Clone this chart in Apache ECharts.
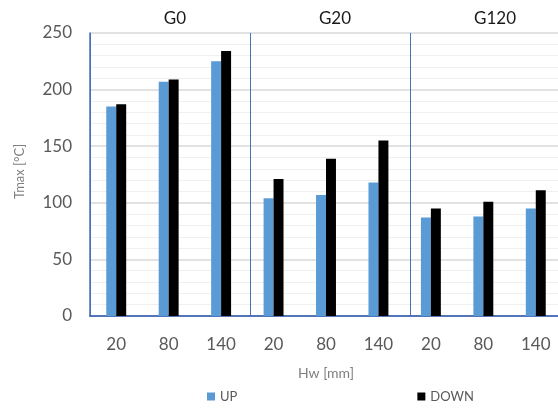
<!DOCTYPE html>
<html>
<head>
<meta charset="utf-8">
<script src="https://cdn.jsdelivr.net/npm/echarts@6/dist/echarts.min.js"></script>
<style>
  html, body { margin: 0; padding: 0; background: #fff; }
  #chart { width: 558px; height: 408px; }
</style>
</head>
<body>
<div id="chart"></div>
<script>
const hwLabels = ["20", "80", "140", "20", "80", "140", "20", "80", "140"];
const groups = ["G0", "G20", "G120"];
const upValues = [185, 207, 225, 104, 107, 118, 87, 88, 95];
const downValues = [187, 209, 234, 121, 139, 155, 95, 101, 111];

const chartDom = document.getElementById("chart");
const myChart = echarts.init(chartDom);
const font = "Lato, 'Liberation Sans', sans-serif";
const frame = "#4a6fb5";

const option = {
  animation: false,
  textStyle: { fontFamily: font },
  grid: [
    { left: 90, top: 33, bottom: 92, width: 472, outerBoundsMode: "none" },
    // group header axis: its split lines are the group dividers
    { left: 90, top: 33, bottom: 92, width: 480, outerBoundsMode: "none" },
  ],
  legend: {
    left: 207,
    top: 390,
    padding: 0,
    itemWidth: 8,
    itemHeight: 8,
    itemGap: 180,
    icon: "rect",
    textStyle: { color: "#595959", fontSize: 13, fontFamily: font },
    data: ["UP", "DOWN"],
  },
  xAxis: [
    {
      type: "category",
      gridIndex: 0,
      data: hwLabels,
      axisLine: { lineStyle: { color: frame, width: 1.5 } },
      axisTick: { show: false },
      axisLabel: { color: "#595959", fontSize: 17, margin: 20 },
      name: "Hw [mm]",
      nameLocation: "middle",
      nameGap: 50,
      nameTextStyle: { color: "#7f7f7f", fontSize: 14 },
    },
    {
      type: "category",
      gridIndex: 1,
      position: "top",
      data: groups,
      axisLine: { show: true, lineStyle: { color: frame, width: 1.5 } },
      axisTick: { show: false },
      axisLabel: { color: "#1a1a1a", fontSize: 17, margin: 6, padding: [0, 0, 0, 10] },
      splitLine: { show: true, lineStyle: { color: frame, width: 1 } },
    },
  ],
  yAxis: [
    {
      type: "value",
      gridIndex: 0,
      min: 0,
      max: 250,
      interval: 50,
      name: "Tmax [°C]",
      nameLocation: "middle",
      nameGap: 64,
      nameTextStyle: { color: "#7f7f7f", fontSize: 13, padding: [0, 0, 0, 6] },
      axisLine: { show: true, lineStyle: { color: frame, width: 1.5 } },
      axisTick: { show: false },
      axisLabel: { color: "#595959", fontSize: 17, margin: 18 },
      splitLine: { lineStyle: { color: "#d9d9d9", width: 1.5 } },
      minorSplitLine: { show: true, lineStyle: { color: "#efefef", width: 1 } },
      minorTick: { show: false, splitNumber: 5 },
    },
    {
      type: "value",
      gridIndex: 1,
      min: 0,
      max: 250,
      show: false,
    },
  ],
  series: [
    {
      name: "UP",
      type: "bar",
      data: upValues,
      barWidth: "19%",
      barGap: "0%",
      itemStyle: { color: "#5b9bd5" },
    },
    {
      name: "DOWN",
      type: "bar",
      data: downValues,
      barWidth: "19%",
      barGap: "0%",
      itemStyle: { color: "#000000" },
    },
  ],
};
myChart.setOption(option);
</script>
</body>
</html>
